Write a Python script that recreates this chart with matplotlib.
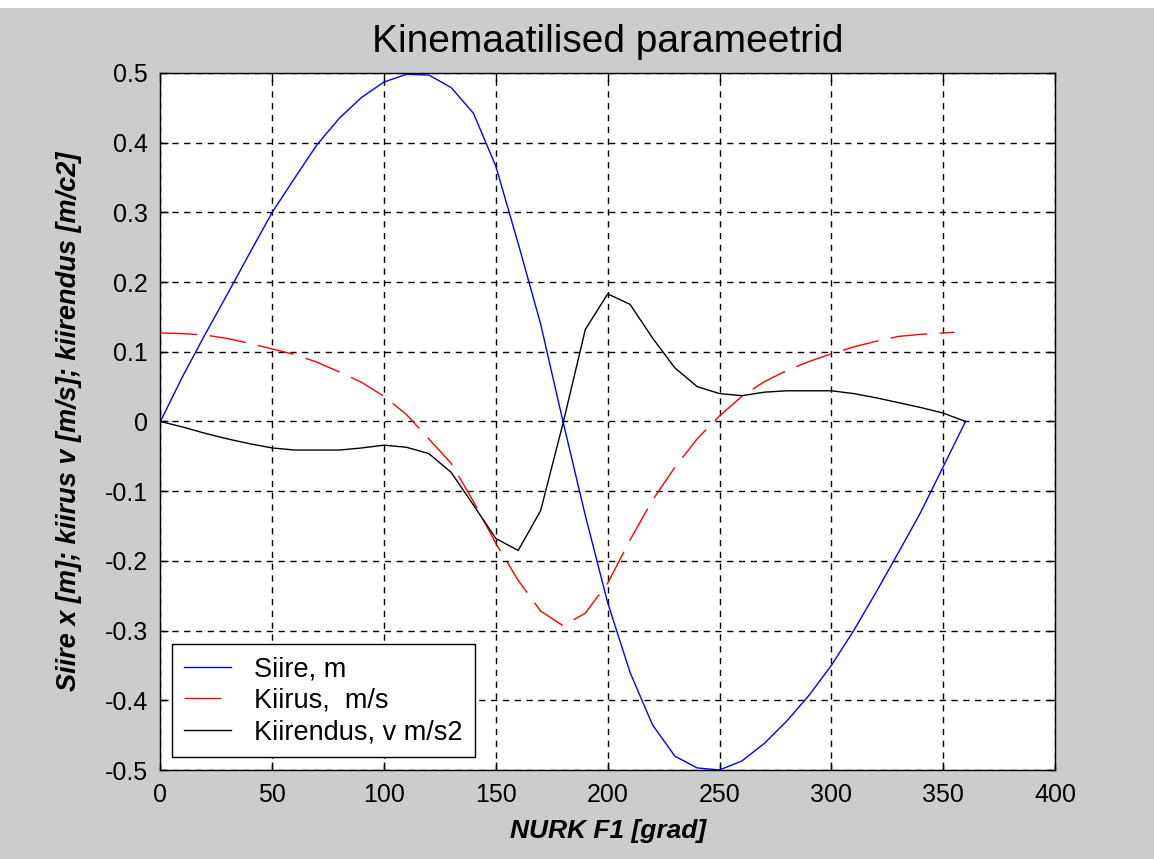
import matplotlib
matplotlib.use("Agg")
import matplotlib.pyplot as plt

plt.rcParams['font.family'] = ['Liberation Sans', 'DejaVu Sans']

# andmed (loetud pildilt)
nurk = [0, 10, 20, 30, 40, 50, 60, 70, 80, 90, 100, 110, 120, 130, 140, 150, 160, 170, 180,
        190, 200, 210, 220, 230, 240, 250, 260, 270, 280, 290, 300, 310, 320, 330, 340, 350, 360]

siire = [0, 0.065, 0.125, 0.183, 0.242, 0.3, 0.349, 0.397, 0.435, 0.465, 0.487, 0.498, 0.497,
         0.479, 0.442, 0.366, 0.255, 0.14, 0.0, -0.135, -0.26, -0.36, -0.435, -0.48, -0.497,
         -0.5, -0.487, -0.462, -0.43, -0.393, -0.35, -0.3, -0.245, -0.188, -0.13, -0.065, 0]

nurk_v = [0, 10, 20, 30, 40, 50, 60, 70, 80, 90, 100, 110, 120, 130, 140, 150, 160, 170, 180,
          190, 200, 210, 220, 230, 240, 250, 260, 270, 280, 290, 300, 310, 320, 330, 340, 350, 355]

kiirus = [0.127, 0.126, 0.124, 0.119, 0.112, 0.104, 0.096, 0.085, 0.071, 0.056, 0.036, 0.01,
          -0.025, -0.06, -0.115, -0.175, -0.228, -0.272, -0.293, -0.275, -0.232, -0.17, -0.113,
          -0.066, -0.025, 0.008, 0.036, 0.057, 0.073, 0.086, 0.097, 0.107, 0.115, 0.122, 0.125,
          0.127, 0.128]

kiirendus = [0, -0.008, -0.017, -0.025, -0.032, -0.038, -0.041, -0.041, -0.041, -0.038, -0.034,
             -0.037, -0.046, -0.073, -0.12, -0.168, -0.185, -0.128, -0.003, 0.132, 0.183, 0.168,
             0.12, 0.077, 0.05, 0.04, 0.037, 0.042, 0.044, 0.044, 0.044, 0.04, 0.034, 0.027,
             0.02, 0.012, 0]

x_ticks = [0, 50, 100, 150, 200, 250, 300, 350, 400]
y_ticks = [-0.5, -0.4, -0.3, -0.2, -0.1, 0, 0.1, 0.2, 0.3, 0.4, 0.5]
y_labels = ['-0.5', '-0.4', '-0.3', '-0.2', '-0.1', '0', '0.1', '0.2', '0.3', '0.4', '0.5']

fig = plt.figure(figsize=(11.54, 8.59), dpi=100, facecolor='#cccccc')
# valge riba ylaosas
fig.patches.append(plt.Rectangle((0, 0.991), 1, 0.009, transform=fig.transFigure,
                                 facecolor='white', edgecolor='none'))

ax = fig.add_axes([0.139, 0.1036, 0.7752, 0.8115])
ax.set_facecolor('white')

ax.plot(nurk, siire, color='blue', lw=1.0, label='Siire, m')
ax.plot(nurk_v, kiirus, color='red', lw=1.0, dashes=(26.5, 9), label='Kiirus,  m/s')
ax.plot(nurk, kiirendus, color='black', lw=1.0, label='Kiirendus, v m/s2')

ax.set_xlim(0, 400)
ax.set_ylim(-0.5, 0.5)
ax.set_xticks(x_ticks)
ax.set_yticks(y_ticks)
ax.set_yticklabels(y_labels)
ax.tick_params(direction='in', length=6, width=1, top=True, right=True,
               labelsize=18, pad=9, colors='black')
ax.grid(True, color='black', lw=1.0, dashes=(4.5, 4))
for s in ax.spines.values():
    s.set_linewidth(1.0)
    s.set_color('black')

ax.set_title('Kinemaatilised parameetrid', fontsize=28, pad=15)
ax.set_xlabel('NURK F1 [grad]', fontsize=19, fontweight='bold', fontstyle='italic', labelpad=9)
ax.set_ylabel('Siire x [m]; kiirus v [m/s]; kiirendus [m/c2]', fontsize=19.5,
              fontweight='bold', fontstyle='italic', labelpad=16)

leg = ax.legend(loc='lower left', bbox_to_anchor=(0.0125, 0.018), borderaxespad=0,
                fontsize=19.5, fancybox=False, framealpha=1, edgecolor='black',
                handlelength=1.75, handletextpad=0.85, labelspacing=0.2, borderpad=0.45)
leg.get_frame().set_linewidth(1.0)

fig.savefig('out.png', dpi=100, facecolor=fig.get_facecolor())
